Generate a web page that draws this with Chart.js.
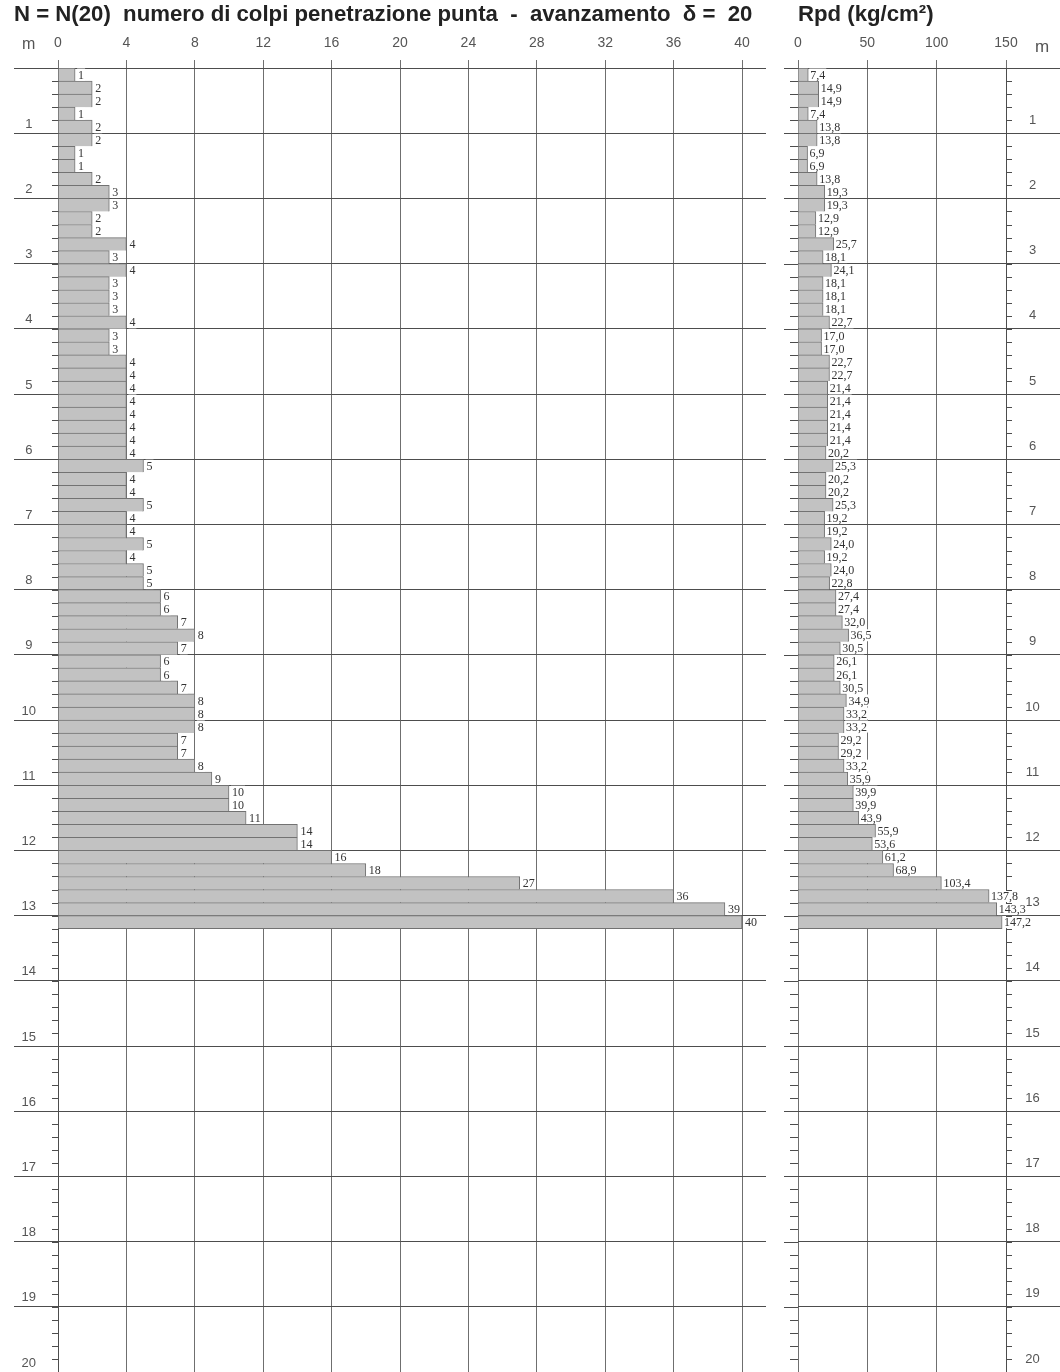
<!DOCTYPE html>
<html lang="it">
<head>
<meta charset="utf-8">
<title>Prova penetrometrica dinamica</title>
<script src="https://cdn.jsdelivr.net/npm/chart.js@4.4.1/dist/chart.umd.min.js"></script>
<style>
  html, body { margin: 0; padding: 0; background: #fff; }
  #wrap { position: relative; width: 1060px; height: 1372px; overflow: hidden; }
  #nChart { position: absolute; left: 0; top: 0; }
  #rpdChart { position: absolute; left: 780px; top: 0; }
</style>
</head>
<body>
<div id="wrap">
  <canvas id="nChart" width="780" height="1372"></canvas>
  <canvas id="rpdChart" width="280" height="1372"></canvas>
</div>
<script>
// top of each 20 cm step (m)
const depthTop = [
  0.0, 0.2, 0.4, 0.6, 0.8, 1.0, 1.2, 1.4, 1.6, 1.8,
  2.0, 2.2, 2.4, 2.6, 2.8, 3.0, 3.2, 3.4, 3.6, 3.8,
  4.0, 4.2, 4.4, 4.6, 4.8, 5.0, 5.2, 5.4, 5.6, 5.8,
  6.0, 6.2, 6.4, 6.6, 6.8, 7.0, 7.2, 7.4, 7.6, 7.8,
  8.0, 8.2, 8.4, 8.6, 8.8, 9.0, 9.2, 9.4, 9.6, 9.8,
  10.0, 10.2, 10.4, 10.6, 10.8, 11.0, 11.2, 11.4, 11.6, 11.8,
  12.0, 12.2, 12.4, 12.6, 12.8, 13.0
];

// N(20) blow counts
const nBlows = [
  1, 2, 2, 1, 2, 2, 1, 1, 2, 3,
  3, 2, 2, 4, 3, 4, 3, 3, 3, 4,
  3, 3, 4, 4, 4, 4, 4, 4, 4, 4,
  5, 4, 4, 5, 4, 4, 5, 4, 5, 5,
  6, 6, 7, 8, 7, 6, 6, 7, 8, 8,
  8, 7, 7, 8, 9, 10, 10, 11, 14, 14,
  16, 18, 27, 36, 39, 40
];

// dynamic point resistance Rpd (kg/cm2)
const rpd = [
  7.4, 14.9, 14.9, 7.4, 13.8, 13.8, 6.9, 6.9, 13.8, 19.3,
  19.3, 12.9, 12.9, 25.7, 18.1, 24.1, 18.1, 18.1, 18.1, 22.7,
  17.0, 17.0, 22.7, 22.7, 21.4, 21.4, 21.4, 21.4, 21.4, 20.2,
  25.3, 20.2, 20.2, 25.3, 19.2, 19.2, 24.0, 19.2, 24.0, 22.8,
  27.4, 27.4, 32.0, 36.5, 30.5, 26.1, 26.1, 30.5, 34.9, 33.2,
  33.2, 29.2, 29.2, 33.2, 35.9, 39.9, 39.9, 43.9, 55.9, 53.6,
  61.2, 68.9, 103.4, 137.8, 143.3, 147.2
];

const nTicks = [0, 4, 8, 12, 16, 20, 24, 28, 32, 36, 40];
const rpdTicks = [0, 50, 100, 150];
const depthTicks = [0, 1, 2, 3, 4, 5, 6, 7, 8, 9, 10, 11, 12, 13, 14, 15, 16, 17, 18, 19, 20];

const STEP = 0.2;
const SANS = "'Liberation Sans', Arial, sans-serif";
const SERIF = "'Liberation Serif', 'Times New Roman', serif";
const lineDark = '#4d4d4d';
const lineMid = '#6f6f6f';
const tickText = '#555';

function barPoints(values) {
  return values.map((v, i) => ({ x: v, y: depthTop[i] + STEP / 2 }));
}

// value written at the end of every bar, on a white patch
const valueLabels = {
  id: 'valueLabels',
  afterDraw(chart, args, opts) {
    const ctx = chart.ctx;
    const meta = chart.getDatasetMeta(0);
    const data = chart.data.datasets[0].data;
    ctx.save();
    ctx.font = opts.font;
    ctx.textBaseline = 'middle';
    meta.data.forEach((bar, i) => {
      const text = opts.format(data[i].x);
      const w = ctx.measureText(text).width;
      const x = bar.x + opts.gap;
      ctx.fillStyle = '#fff';
      ctx.fillRect(x - 1, bar.y - 6, w + 2, 12);
      ctx.fillStyle = opts.color;
      ctx.fillText(text, x, bar.y + 1);
    });
    ctx.restore();
  }
};

// 20 cm ticks on the depth axes, meter lines running left of the plot
const depthMarks = {
  id: 'depthMarks',
  afterDraw(chart, args, opts) {
    const ctx = chart.ctx;
    const ys = chart.scales.y;
    const { left, right } = chart.chartArea;
    ctx.save();
    ctx.strokeStyle = lineDark;
    ctx.lineWidth = 1;
    ctx.beginPath();
    for (let i = 0; i <= 100; i++) {
      const py = Math.round(ys.getPixelForValue(i * STEP)) + 0.5;
      if (opts.leftTick) {
        ctx.moveTo(left - opts.leftTick, py);
        ctx.lineTo(left, py);
      }
      if (opts.rightTick) {
        ctx.moveTo(right, py);
        ctx.lineTo(right + opts.rightTick, py);
      }
    }
    if (opts.extendLeft) {
      depthTicks.forEach(d => {
        const py = Math.round(ys.getPixelForValue(d)) + 0.5;
        ctx.moveTo(left - opts.extendLeft, py);
        ctx.lineTo(left, py);
      });
    }
    ctx.stroke();
    ctx.restore();
  }
};

function barDataset(values) {
  const last = values.length - 1;
  return {
    data: barPoints(values),
    backgroundColor: '#c2c2c2',
    borderColor: '#727272',
    borderWidth: ctx => ({ top: 1, right: 1, bottom: ctx.dataIndex === last ? 1 : 0, left: 0 }),
    borderSkipped: false,
    barPercentage: 1,
    categoryPercentage: 1
  };
}

// depth axis; the 0 tick carries the unit "m", lifted above the top line
function depthAxis(side, width, labelPad, labelShift, unitLabel, unitFont) {
  return {
    type: 'linear',
    position: side,
    reverse: true,
    offset: false,
    min: 0,
    max: 20,
    z: 1,
    afterBuildTicks: s => { s.ticks = depthTicks.map(v => ({ value: v })); },
    afterFit: s => { s.width = width; s.paddingTop = 0; s.paddingBottom = 0; },
    grid: { offset: false, color: lineDark, tickColor: lineDark, tickLength: width, lineWidth: 1 },
    border: { color: lineDark },
    ticks: {
      crossAlign: 'center',
      padding: labelPad,
      color: tickText,
      labelOffset: labelShift,
      font: ctx => (ctx.index === 0 ? unitFont : { family: SANS, size: 13 }),
      callback: v => (v === 0 ? [unitLabel, ''] : String(v))
    }
  };
}

// unlabelled right-hand axis: only its meter ticks, continuing the grid lines
function depthStubAxis(width) {
  return {
    type: 'linear',
    position: 'right',
    reverse: true,
    offset: false,
    min: 0,
    max: 20,
    afterBuildTicks: s => { s.ticks = depthTicks.map(v => ({ value: v })); },
    afterFit: s => { s.width = width; s.paddingTop = 0; s.paddingBottom = 0; },
    grid: { offset: false, drawOnChartArea: false, tickColor: lineDark, tickLength: width },
    border: { display: false },
    ticks: { display: false }
  };
}

function valueAxis(max, ticks) {
  return {
    type: 'linear',
    position: 'top',
    min: 0,
    max: max,
    afterBuildTicks: s => { s.ticks = ticks.map(v => ({ value: v })); },
    afterFit: s => { s.height = 40; s.paddingLeft = 0; s.paddingRight = 0; },
    grid: { color: lineMid, tickColor: lineMid, tickLength: 8 },
    border: { color: lineDark },
    ticks: { color: tickText, padding: 8, font: { family: SANS, size: 14 } }
  };
}

function titleOpts(text) {
  return {
    display: true,
    text: text,
    align: 'start',
    color: '#222',
    font: { family: SANS, size: 22.2, weight: 'bold', lineHeight: 1.2 },
    padding: { top: 1.4, bottom: 0 }
  };
}

// blow count chart
new Chart(document.getElementById('nChart'), {
  type: 'bar',
  data: { datasets: [barDataset(nBlows)] },
  options: {
    indexAxis: 'y',
    responsive: false,
    animation: false,
    layout: { padding: { left: 14, right: 14, top: 0, bottom: 0 } },
    scales: {
      x: valueAxis(40, nTicks),
      y: depthAxis('left', 44, -22, -9, 'm', { family: SANS, size: 16, lineHeight: 1.75 }),
      yStub: depthStubAxis(24)
    },
    plugins: {
      legend: { display: false },
      tooltip: { enabled: false },
      title: titleOpts('N = N(20)  numero di colpi penetrazione punta  -  avanzamento  \u03b4 =  20'),
      valueLabels: { font: '12px ' + SERIF, color: '#333', gap: 3, format: v => String(v) },
      depthMarks: { leftTick: 6 }
    }
  },
  plugins: [valueLabels, depthMarks]
});

// Rpd chart
new Chart(document.getElementById('rpdChart'), {
  type: 'bar',
  data: { datasets: [barDataset(rpd)] },
  options: {
    indexAxis: 'y',
    responsive: false,
    animation: false,
    layout: { padding: { left: 18, right: 0, top: 0, bottom: 0 } },
    scales: {
      x: valueAxis(150, rpdTicks),
      y: depthAxis('right', 54, -44, -13, '    m', { family: SANS, size: 17, lineHeight: 0.94 })
    },
    plugins: {
      legend: { display: false },
      tooltip: { enabled: false },
      title: titleOpts('Rpd (kg/cm\u00b2)'),
      valueLabels: { font: '12px ' + SERIF, color: '#333', gap: 2, format: v => v.toFixed(1).replace('.', ',') },
      depthMarks: { leftTick: 8, rightTick: 6, extendLeft: 14 }
    }
  },
  plugins: [valueLabels, depthMarks]
});
</script>
</body>
</html>
